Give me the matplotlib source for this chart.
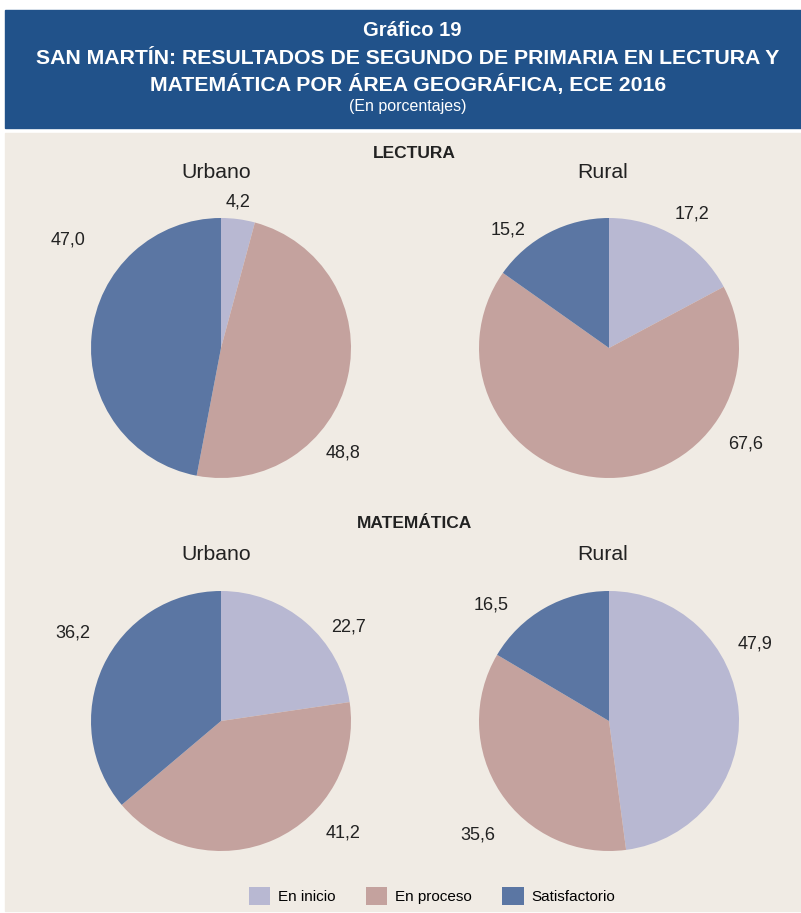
import matplotlib.pyplot as plt
from matplotlib.patches import Rectangle, Patch

# data
categorias = ["En inicio", "En proceso", "Satisfactorio"]
lectura_urbano = [4.2, 48.8, 47.0]
lectura_rural = [17.2, 67.6, 15.2]
mate_urbano = [22.7, 41.2, 36.2]
mate_rural = [47.9, 35.6, 16.5]

colores = ["#b8b8d2", "#c4a29e", "#5b76a3"]
W, H = 801, 913

plt.rcParams['font.family'] = ['Liberation Sans', 'DejaVu Sans']

fig = plt.figure(figsize=(W / 100, H / 100), dpi=100)
fig.patch.set_facecolor("white")


def px(x, y):
    return x / W, 1 - y / H


# header and background boxes
fig.patches.append(Rectangle((5 / W, 1 - 128 / H), 796 / W, 118 / H,
                             transform=fig.transFigure, color="#21528a", zorder=-5))
fig.patches.append(Rectangle((5 / W, 1 - 911 / H), 796 / W, 778 / H,
                             transform=fig.transFigure, color="#f0ebe4", zorder=-5))

fig.text(*px(412, 31), "Gráfico 19", color="white", fontsize=14.5, fontweight="bold",
         ha="center", va="center")
fig.text(*px(408, 58), "SAN MARTÍN: RESULTADOS DE SEGUNDO DE PRIMARIA EN LECTURA Y",
         color="white", fontsize=15.3, fontweight="bold", ha="center", va="center")
fig.text(*px(408, 85), "MATEMÁTICA POR ÁREA GEOGRÁFICA, ECE 2016",
         color="white", fontsize=15.3, fontweight="bold", ha="center", va="center")
fig.text(*px(408, 107), "(En porcentajes)", color="white", fontsize=11.5,
         ha="center", va="center")

fig.text(*px(414, 154), "LECTURA", fontsize=12.5, fontweight="bold", color="#222222",
         ha="center", va="center")
fig.text(*px(414, 524), "MATEMÁTICA", fontsize=12.5, fontweight="bold", color="#222222",
         ha="center", va="center")
for (x, y, t) in [(216, 172, "Urbano"), (603, 172, "Rural"),
                  (216, 555, "Urbano"), (603, 555, "Rural")]:
    fig.text(*px(x, y), t, fontsize=15.3, color="#222222", ha="center", va="center")

# pies: (values, center px, label offsets in radius units)
pies = [
    (lectura_urbano, (221, 348), [(0.13, 1.12), (0.94, -0.81), (-1.18, 0.83)]),
    (lectura_rural, (609, 348), [(0.64, 1.03), (1.05, -0.74), (-0.78, 0.91)]),
    (mate_urbano, (221, 721), [(0.98, 0.72), (0.94, -0.86), (-1.14, 0.68)]),
    (mate_rural, (609, 721), [(1.12, 0.59), (-1.01, -0.88), (-0.91, 0.89)]),
]
R = 130
for vals, (cx, cy), offs in pies:
    ax = fig.add_axes([(cx - R) / W, 1 - (cy + R) / H, 2 * R / W, 2 * R / H])
    ax.set_facecolor("none")
    ax.pie(vals, colors=colores, startangle=90, counterclock=False, radius=1,
           wedgeprops=dict(linewidth=0))
    ax.set_xlim(-1, 1)
    ax.set_ylim(-1, 1)
    ax.axis("off")
    for v, (ox, oy) in zip(vals, offs):
        ax.text(ox, oy, f"{v:.1f}".replace(".", ","), fontsize=13, color="#222222",
                ha="center", va="center", clip_on=False)

handles = [Patch(facecolor=c, label=l) for c, l in zip(colores, categorias)]
fig.legend(handles=handles, loc="center", bbox_to_anchor=px(432, 896), ncol=3,
           frameon=False, fontsize=11, handlelength=1.4, handleheight=1.4,
           columnspacing=2.0, handletextpad=0.5)

fig.savefig("out.png", dpi=100)
